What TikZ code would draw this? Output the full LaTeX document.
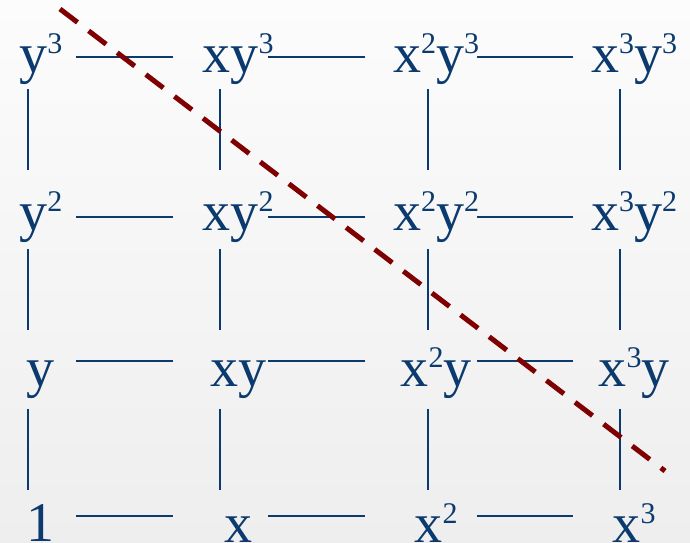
\documentclass[tikz,border=0pt]{standalone}
\usepackage{fontspec}
\setmainfont{Liberation Serif}
\usepackage{xcolor}
\usepackage{tikz}
\usetikzlibrary{positioning, calc}
\definecolor{monoblue}{HTML}{0b3a6e}
\definecolor{cutred}{HTML}{7f0000}
\definecolor{bgtop}{HTML}{fcfcfc}
\definecolor{bgbot}{HTML}{eeeeee}
\newcommand{\ex}[1]{\raisebox{19pt}{\fontsize{30}{30}\selectfont #1}}

\begin{document}
\begin{tikzpicture}[x=1pt, y=-1pt,
 mono/.style={anchor=base, inner sep=0pt, text=monoblue, font=\fontsize{56}{60}\selectfont},
 lnk/.style={draw=monoblue, line width=1.8pt},
 cut/.style={draw=cutred, line width=5pt, dash pattern=on 22pt off 14pt}]
\useasboundingbox (0,0) rectangle (690,542);
\shade[top color=bgtop, bottom color=bgbot] (0,0) rectangle (690,542);

% grid corners
\foreach \i/\x in {1/28,2/220,3/428,4/620}
  \foreach \j/\y in {3/57,2/217,1/361,0/516}
    \coordinate (g-\i-\j) at (\x,\y);

% monomials
\node[mono] (m-1-3) at (41,72) {y\ex{3}};
\node[mono] (m-2-3) at (238,72) {xy\ex{3}};
\node[mono] (m-3-3) at (436,72) {x\ex{2}y\ex{3}};
\node[mono] (m-4-3) at (634,72) {x\ex{3}y\ex{3}};
\node[mono] (m-1-2) at (41,230) {y\ex{2}};
\node[mono] (m-2-2) at (238,230) {xy\ex{2}};
\node[mono] (m-3-2) at (436,230) {x\ex{2}y\ex{2}};
\node[mono] (m-4-2) at (634,230) {x\ex{3}y\ex{2}};
\node[mono] (m-1-1) at (41,386) {y};
\node[mono] (m-2-1) at (238,386) {xy};
\node[mono] (m-3-1) at (436,386) {x\ex{2}y};
\node[mono] (m-4-1) at (634,386) {x\ex{3}y};
\node[mono] (m-1-0) at (41,541) {1};
\node[mono] (m-2-0) at (238,542) {x};
\node[mono] (m-3-0) at (436,542) {x\ex{2}};
\node[mono] (m-4-0) at (634,542) {x\ex{3}};

% horizontal links
\foreach \j in {1,2,3}{
  \draw[lnk, shorten <=48pt, shorten >=47pt] (g-1-\j) -- (g-2-\j);
  \draw[lnk, shorten <=48pt, shorten >=63pt] (g-2-\j) -- (g-3-\j);
  \draw[lnk, shorten <=49pt, shorten >=47pt] (g-3-\j) -- (g-4-\j);
}
\draw[lnk, shorten <=48pt, shorten >=47pt] (g-1-0) -- (g-2-0);
\draw[lnk, shorten <=48pt, shorten >=63pt] (g-2-0) -- (g-3-0);
\draw[lnk, shorten <=49pt, shorten >=47pt, yshift=5pt] (g-3-0) -- (g-4-0);

% vertical links
\foreach \i in {1,...,4}{
  \draw[lnk, shorten <=32pt, shorten >=47pt] (g-\i-3) -- (g-\i-2);
  \draw[lnk, shorten <=32pt, shorten >=31pt] (g-\i-2) -- (g-\i-1);
  \draw[lnk, shorten <=48pt, shorten >=26pt] (g-\i-1) -- (g-\i-0);
}

% staircase cut
\coordinate (cut-a) at (60,9);
\coordinate (cut-b) at (665,471);
\draw[cut] (cut-a) -- (cut-b);

\end{tikzpicture}
\end{document}
